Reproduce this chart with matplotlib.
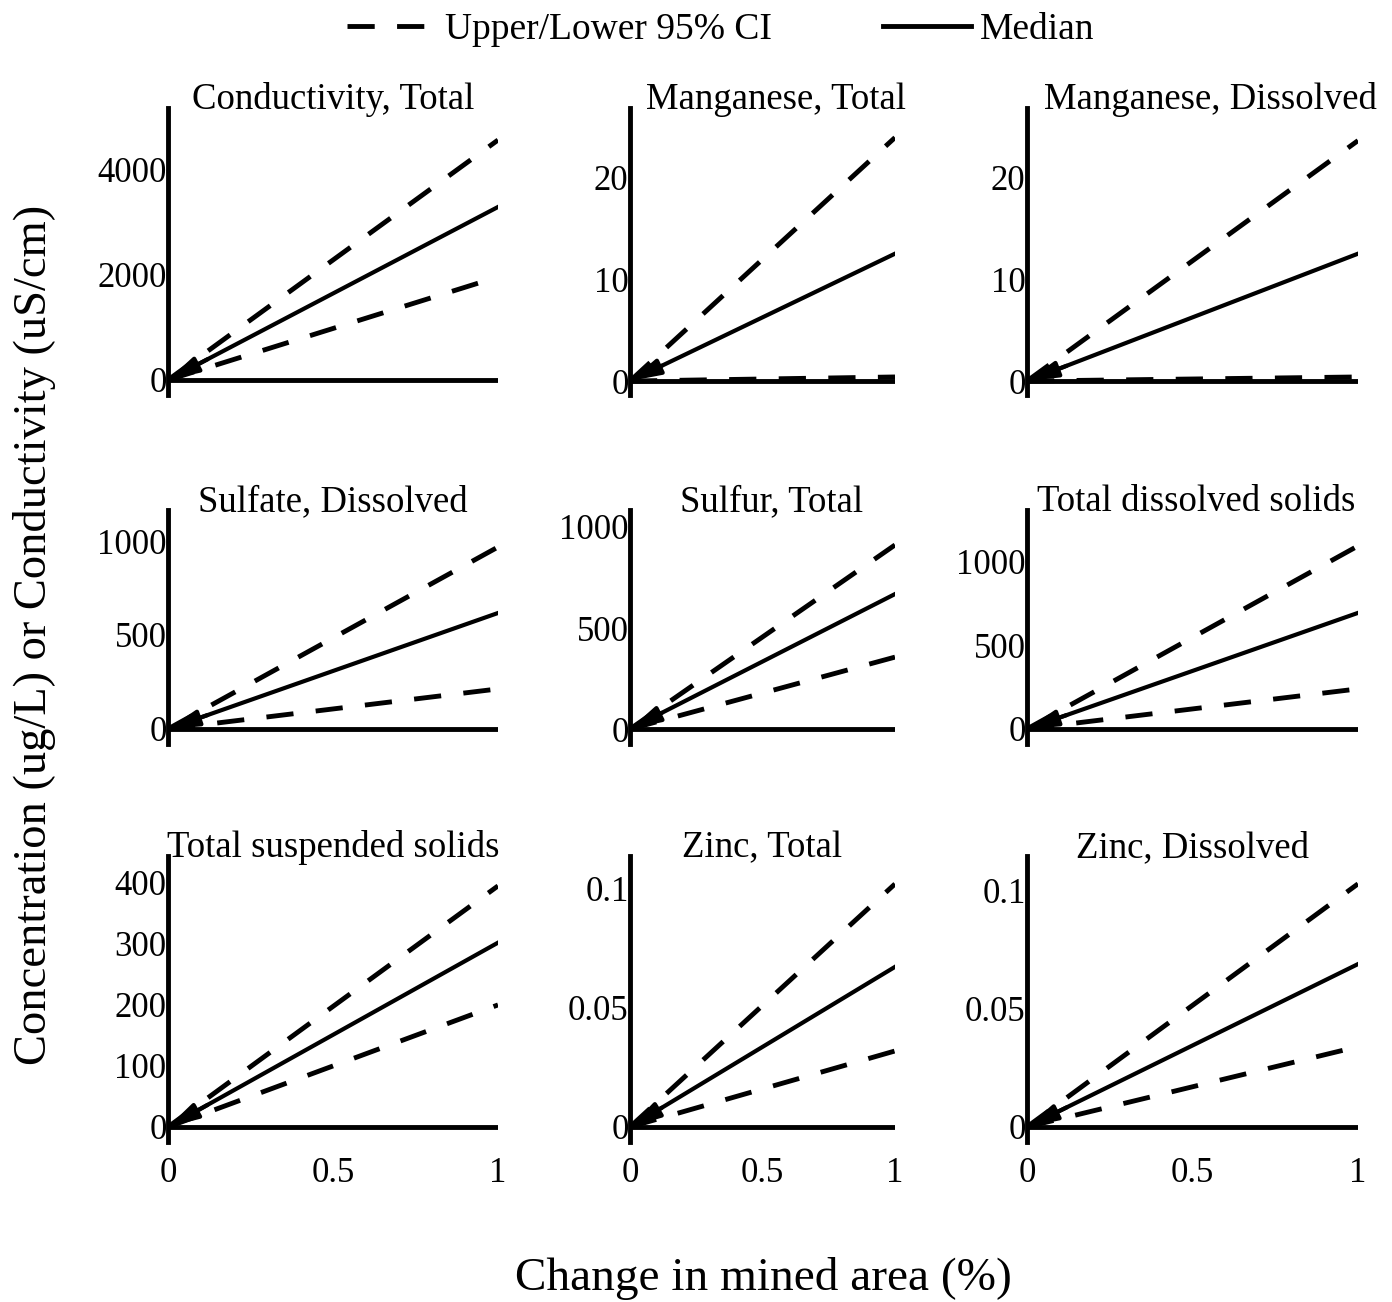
import matplotlib
matplotlib.use("Agg")
import matplotlib.pyplot as plt

plt.rcParams['font.family'] = ['Liberation Serif', 'DejaVu Serif']

# Dados (linhas de 0 a 1)
titles = ["Conductivity, Total", "Manganese, Total", "Manganese, Dissolved",
          "Sulfate, Dissolved", "Sulfur, Total", "Total dissolved solids",
          "Total suspended solids", "Zinc, Total", "Zinc, Dissolved"]
x_vals = [0, 1]
upper = [4570, 23.9, 23.6, 968, 911, 1096, 395, 0.1017, 0.103]
median = [3295, 12.5, 12.5, 617, 668, 695, 302, 0.067, 0.069]
lower = [1962, 0.4, 0.4, 213, 356, 240, 200, 0.0318, 0.034]
yticks = [[0, 2000, 4000], [0, 10, 20], [0, 10, 20],
          [0, 500, 1000], [0, 500, 1000], [0, 500, 1000],
          [0, 100, 200, 300, 400], [0, 0.05, 0.1], [0, 0.05, 0.1]]
ytick_labels = [["0", "2000", "4000"], ["0", "10", "20"], ["0", "10", "20"],
                ["0", "500", "1000"], ["0", "500", "1000"], ["0", "500", "1000"],
                ["0", "100", "200", "300", "400"], ["0", "0.05", "0.1"], ["0", "0.05", "0.1"]]
xticks = [0, 0.5, 1]
xtick_labels = ["0", "0.5", "1"]
ylims = [(-286, 5180), (-1.37, 26.8), (-1.37, 26.8),
         (-80, 1165), (-74, 1084), (-90, 1311),
         (-24.6, 444), (-0.0063, 0.1134), (-0.0064, 0.1148)]

W, H = 1392, 1302
fig = plt.figure(figsize=(W / 100, H / 100), dpi=100)

col_px = [(168, 498), (630, 895), (1027, 1358)]
row_px = [(108, 395), (510, 744), (856, 1142)]
title_shift_px = [0, 13, 18, 0, 9, 4, 0, 0, 0]

LW = 3.5
dash = (5.6, 4.6)

for i, title in enumerate(titles):
    r, c = divmod(i, 3)
    x0, x1 = col_px[c]
    t0, b0 = row_px[r]
    ax = fig.add_axes([x0 / W, 1 - b0 / H, (x1 - x0) / W, (b0 - t0) / H])

    ax.axhline(0, color='k', lw=LW, solid_capstyle='butt', zorder=2)
    ax.plot(x_vals, [0, upper[i]], color='k', lw=LW, dashes=dash, zorder=3)
    ax.plot(x_vals, [0, lower[i]], color='k', lw=LW, dashes=dash, zorder=3)
    ax.plot(x_vals, [0, median[i]], color='k', lw=3.0, zorder=4)
    # seta na origem
    ax.annotate('', xy=(0, 0), xytext=(0.12, 0.12 * median[i]),
                arrowprops=dict(arrowstyle='-|>,head_length=0.6,head_width=0.16',
                                color='k', lw=3.0, shrinkA=0, shrinkB=0,
                                mutation_scale=30), zorder=5)

    ax.set_xlim(0, 1)
    ax.set_ylim(*ylims[i])
    for s in ['top', 'right', 'bottom']:
        ax.spines[s].set_visible(False)
    ax.spines['left'].set_linewidth(LW)
    ax.spines['left'].set_zorder(6)

    ax.set_yticks(yticks[i])
    ax.set_yticklabels(ytick_labels[i])
    ax.tick_params(axis='y', length=0, pad=1, labelsize=25)
    ax.set_xticks(xticks)
    if r == 2:
        ax.set_xticklabels(xtick_labels)
        ax.tick_params(axis='x', length=0, pad=11, labelsize=25)
    else:
        ax.tick_params(axis='x', length=0, labelbottom=False)

    ax.set_title(title, fontsize=26.5, pad=-0.5, y=1.0,
                 x=0.5 + title_shift_px[i] / (x1 - x0))

fig.text(35 / W, 1 - 635 / H, 'Concentration (ug/L) or Conductivity (uS/cm)',
         rotation=90, ha='center', va='center', fontsize=33.5)
fig.text(763 / W, 1 - 1278 / H, 'Change in mined area (%)',
         ha='center', va='center', fontsize=34)

h1, = plt.plot([], [], color='k', lw=LW, dashes=dash)
h2, = plt.plot([], [], color='k', lw=LW)
fig.legend([h1, h2], ['Upper/Lower 95% CI', 'Median'], loc='center',
           bbox_to_anchor=(721 / W, 1 - 30 / H), ncol=2, frameon=False,
           fontsize=27, handlelength=2.35, columnspacing=2.95, handletextpad=0.25)

plt.savefig('out.png', dpi=100)
plt.close()
